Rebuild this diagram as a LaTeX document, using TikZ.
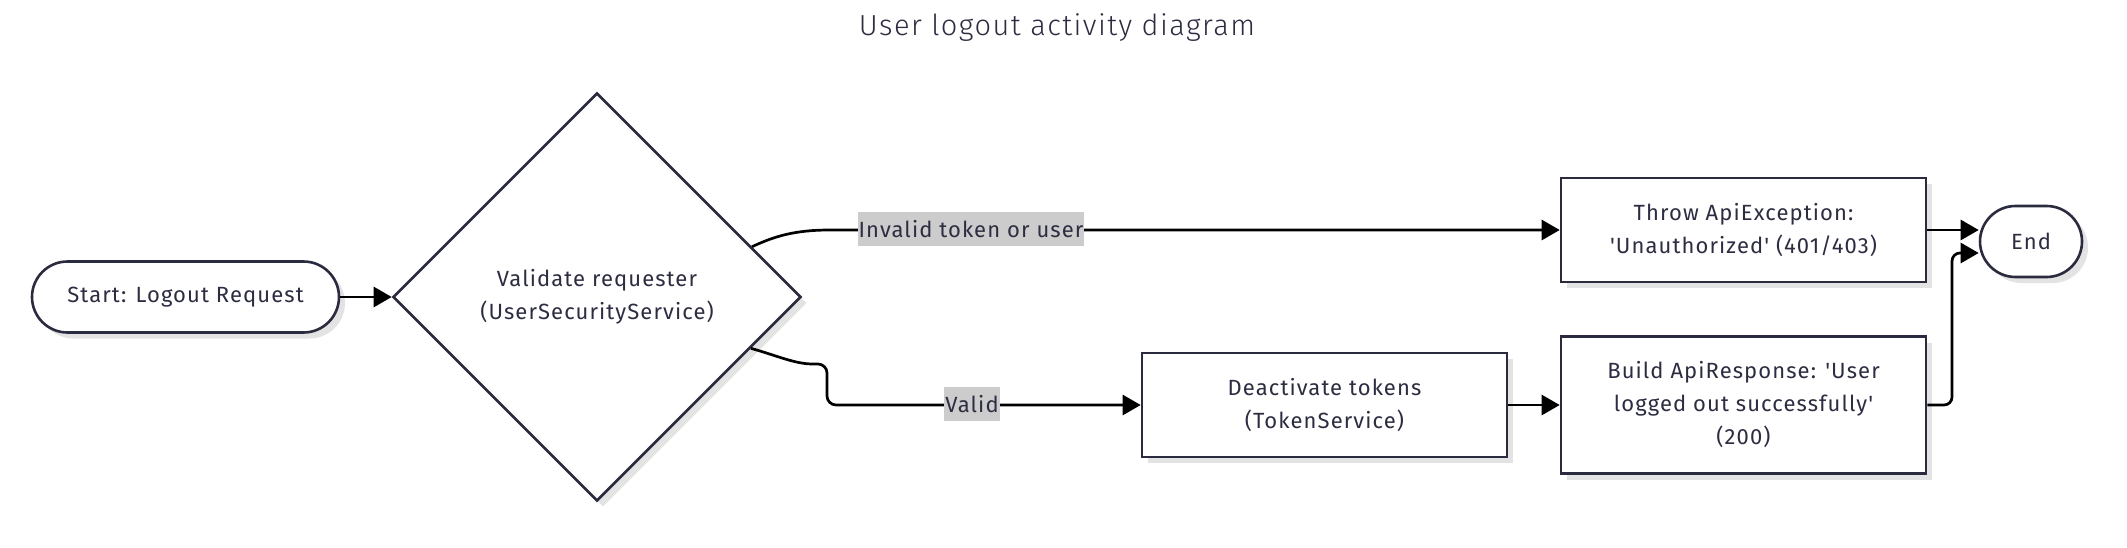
\documentclass[tikz,border=0pt]{standalone}
\usepackage{fontspec}
\setmainfont{Fira Sans}[Ligatures=TeXOff,LetterSpace=5]
\newfontfamily\titlefont{Fira Sans Light}[Ligatures=TeXOff,LetterSpace=5]
\usetikzlibrary{shapes.geometric,arrows.meta,shadows,calc}
\definecolor{bord}{HTML}{2B2B40}
\definecolor{txt}{HTML}{2D2D42}
\definecolor{lbl}{HTML}{CCCCCC}
\definecolor{shad}{HTML}{E3E3E3}
\begin{document}
\begin{tikzpicture}[x=1pt,y=-1pt,
  base/.style={draw=bord, line width=2.6pt, fill=white, text=txt, inner sep=0pt,
    font=\fontsize{22}{33}\selectfont, align=center,
    drop shadow={shadow xshift=6pt, shadow yshift=-6pt, fill=shad, opacity=1}},
  term/.style={base, rectangle, rounded corners=35.5pt, minimum height=71pt},
  procbox/.style={base, rectangle, minimum width=365pt},
  decision/.style={base, diamond, minimum width=408pt, minimum height=408pt},
  arr/.style={draw=black, line width=2.7pt, -{Triangle[length=18pt,width=20pt]}},
  elabel/.style={fill=lbl, text=txt, font=\fontsize{22}{26}\selectfont, inner xsep=1pt, inner ysep=0pt, minimum height=34pt}
]
\useasboundingbox (0,0) rectangle (2127,547);
\fill[white] (0,0) rectangle (2127,547);

\node[font=\titlefont\fontsize{29}{35}\selectfont, text=txt, anchor=base] (title) at (1057,35) {User logout activity diagram};

\node[term, minimum width=307pt] (start) at (185.5,297) {Start: Logout Request};
\node[decision] (dia) at (597,297) {Validate requester\\(UserSecurityService)};
\node[procbox, minimum height=104pt] (throw) at (1743.5,230) {Throw ApiException:\\'Unauthorized' (401/403)};
\node[procbox, minimum height=104pt] (deact) at (1324.5,405) {Deactivate tokens\\(TokenService)};
\node[procbox, minimum height=137pt] (build) at (1743.5,405) {Build ApiResponse: 'User\\logged out successfully'\\(200)};
\node[term, minimum width=102pt] (endn) at (2031,241.5) {End};

\coordinate (d1) at ($(dia.east)!0.245!(dia.north)$);
\coordinate (d2) at ($(dia.east)!0.25!(dia.south)$);

\draw[arr] (start.east) -- (dia.west);
\draw[arr] (d1) .. controls (775,236) and (795,230) .. (830,230) -- (throw.west);
\draw[arr] (d2) .. controls (778,356) and (795,364) .. (813,364) [rounded corners=9pt] -- (827,364) -- (827,405) -- (deact.west);
\draw[arr] (deact.east) -- (build.west);
\draw[arr] (throw.east) -- ($(endn.west)+(0,-11.5)$);
\draw[arr, rounded corners=8pt] (build.east) -- (1952,405) -- (1952,253) -- ($(endn.west)+(0,11.5)$);

\node[elabel] (l1) at (971,229) {Invalid token or user};
\node[elabel] (l2) at (972,404) {Valid};
\end{tikzpicture}
\end{document}
